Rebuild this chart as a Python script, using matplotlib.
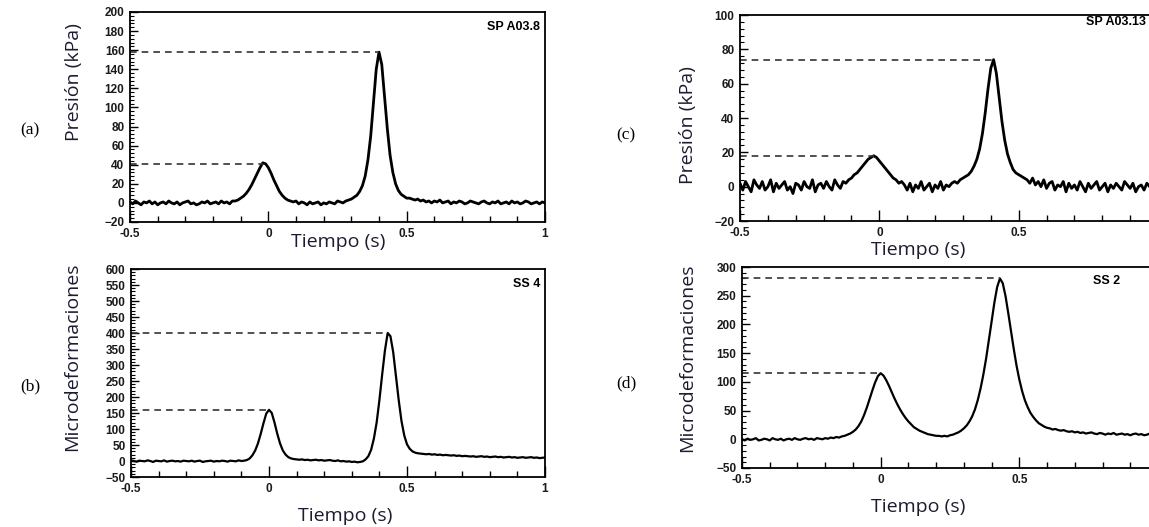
import numpy as np
import matplotlib.pyplot as plt
from matplotlib.ticker import MultipleLocator

# eje de tiempo comun (s), paso 0.01
t = np.round(np.arange(-0.5, 1.0001, 0.01), 2)

# (a) presion SP A03.8 (kPa), filas de 10 muestras
presion_a = [
    1, -1, 2, 0, -2, 1, 0, 2, -1, 1,
    -2, 0, 1, -1, 2, 0, -1, 1, -2, 0,
    1, 2, -1, 0, -2, -1, 1, 0, 2, -1,
    0, 1, -1, 2, 0, 1, -1, 2, 2, 3,
    5, 7, 10, 14, 19, 25, 31, 37, 42, 41,
    37, 31, 24, 18, 12, 8, 5, 3, 2, 1,
    2, -1, 1, 0, -2, 1, -1, 0, 1, -2,
    0, -1, 1, 0, -1, 2, 1, 0, 2, 3,
    4, 6, 8, 12, 18, 28, 45, 70, 105, 140,
    158, 145, 112, 78, 50, 32, 20, 13, 9, 7,
    5, 5, 4, 3, 4, 2, 3, 1, 2, 0,
    2, 1, 3, 0, 1, 2, -1, 1, 0, 2,
    1, -1, 0, 2, 1, 0, -1, 1, 2, 0,
    -1, 1, 0, 2, -1, 0, 1, -1, 2, 0,
    1, -1, 0, 2, 1, -1, 0, 1, -1, 1,
    0]

# (b) microdeformaciones SS 4
micro_b = [
    2, 0, -2, 1, 0, -1, 2, 0, -3, 1,
    0, -1, 2, -2, 0, 1, -1, 0, -2, 1,
    0, -1, 1, -2, 0, 1, -3, -1, 0, 1,
    -2, 0, -1, 1, 0, -2, 1, 0, -1, 2,
    0, 1, 3, 8, 18, 33, 55, 85, 118, 148,
    160, 150, 120, 85, 55, 33, 20, 12, 8, 6,
    5, 4, 5, 3, 4, 2, 3, 4, 2, 3,
    1, 2, 3, 1, 0, 2, -1, 0, -2, -1,
    -3, -2, -4, -3, -1, 5, 15, 35, 70, 120,
    190, 270, 345, 400, 390, 340, 265, 190, 125, 80,
    52, 38, 30, 26, 24, 23, 22, 21, 22, 20,
    21, 19, 20, 18, 19, 18, 17, 18, 16, 17,
    15, 16, 15, 14, 15, 13, 14, 15, 13, 14,
    12, 13, 14, 12, 13, 11, 12, 13, 11, 12,
    10, 11, 12, 10, 11, 12, 10, 11, 9, 10,
    11]

# (c) presion SP A03.13 (kPa)
presion_c = [
    2, -2, 3, 0, -3, 4, 1, -1, 3, -2,
    0, 4, -3, 2, -1, 1, 3, -2, 0, -4,
    2, 1, -2, 3, 0, -1, 4, -3, 1, 2,
    -1, 3, 0, -2, 4, 1, -1, 3, 2, 4,
    5, 7, 8, 10, 12, 14, 16, 17, 18, 17,
    15, 13, 11, 9, 7, 5, 4, 2, 3, 1,
    -2, 2, -3, 1, -1, 3, -2, 0, 2, -3,
    1, -1, 3, -2, 1, 0, 2, 3, 2, 4,
    5, 6, 7, 9, 12, 16, 22, 31, 43, 57,
    69, 74, 66, 52, 38, 27, 19, 14, 10, 8,
    7, 6, 5, 4, 2, 5, 1, 3, 0, 4,
    -1, 2, 3, -2, 1, 0, 3, -3, 2, -1,
    1, -2, 3, 0, -3, 2, -1, 1, 3, -2,
    0, 2, -3, 1, -1, 2, 0, -2, 3, 1,
    -1, 2, -3, 0, 1, -2, 2, 0, -1, 1,
    0]

# (d) microdeformaciones SS 2
micro_d = [
    0, -2, 1, -1, 0, 2, -2, -1, 1, 0,
    -2, 2, 0, -1, 1, -2, 0, 1, -1, 2,
    0, -1, 1, 2, 0, 1, -1, 2, 1, 0,
    2, 1, 3, 2, 4, 3, 5, 6, 8, 10,
    13, 17, 23, 31, 42, 55, 70, 85, 99, 110,
    115, 111, 103, 93, 82, 71, 61, 52, 44, 37,
    31, 26, 21, 18, 15, 13, 11, 9, 8, 7,
    6, 6, 5, 6, 5, 7, 8, 10, 12, 15,
    19, 24, 31, 40, 52, 68, 88, 112, 140, 172,
    205, 238, 265, 280, 272, 250, 220, 188, 157, 128,
    104, 84, 68, 56, 46, 39, 33, 28, 25, 22,
    20, 19, 17, 18, 16, 15, 16, 14, 13, 14,
    12, 13, 11, 12, 10, 11, 12, 10, 9, 11,
    10, 8, 10, 9, 11, 8, 9, 10, 8, 9,
    7, 9, 10, 8, 9, 7, 8, 10, 8, 9,
    8]

# picos marcados con linea discontinua (tiempo, valor)
picos_a_t, picos_a_v = [-0.02, 0.40], [41, 158]
picos_b_t, picos_b_v = [0.00, 0.43], [160, 400]
picos_c_t, picos_c_v = [-0.02, 0.41], [18, 74]
picos_d_t, picos_d_v = [0.00, 0.43], [115, 280]

W, H = 1149, 527
fig = plt.figure(figsize=(W / 100, H / 100), dpi=100)


def px_axes(x0, y0, x1, y1):
    return fig.add_axes([x0 / W, 1 - y1 / H, (x1 - x0) / W, (y1 - y0) / H])


def fmt_x(v, p, xmax):
    if v > xmax:
        return ''
    if abs(v) < 1e-9:
        return '0'
    if abs(v - 1) < 1e-9:
        return '1'
    return f'{v:g}'


def panel(ax, y, ylim, ymaj, ymin, pt, pv, tag, lw, xmax=1.0):
    ax.plot(t, y, color='black', lw=lw, solid_joinstyle='round')
    for tp, vp in zip(pt, pv):
        ax.plot([-0.5, tp], [vp, vp], color='#333333', lw=1.2, ls=(0, (4, 3)))
    ax.set_xlim(-0.5, 1.0)
    ax.set_ylim(*ylim)
    ax.xaxis.set_major_locator(MultipleLocator(0.5))
    ax.xaxis.set_minor_locator(MultipleLocator(0.1))
    ax.yaxis.set_major_locator(MultipleLocator(ymaj))
    ax.yaxis.set_minor_locator(MultipleLocator(ymin))
    ax.xaxis.set_major_formatter(lambda v, p: fmt_x(v, p, xmax))
    ax.tick_params(axis='x', which='major', direction='in', length=8, width=1, pad=4)
    ax.tick_params(axis='x', which='minor', direction='in', length=4, width=1)
    ax.tick_params(axis='y', which='major', direction='in', length=6, width=1, pad=4)
    ax.tick_params(axis='y', which='minor', direction='in', length=3, width=0.8)
    for lab in ax.get_xticklabels() + ax.get_yticklabels():
        lab.set_fontfamily('Liberation Sans')
        lab.set_fontweight('bold')
        lab.set_fontsize(8.5)
        lab.set_color('#1a1a1a')
    for s in ax.spines.values():
        s.set_linewidth(1.3)
    if tag:
        ax.text(0.988, 0.955, tag, transform=ax.transAxes, ha='right', va='top',
                fontfamily='Liberation Sans', fontweight='bold', fontsize=9)


ax_a = px_axes(130, 12, 545, 222)
panel(ax_a, presion_a, (-20, 200), 20, 4, picos_a_t, picos_a_v, 'SP A03.8', 2.0)
ax_b = px_axes(131, 269, 545, 477)
panel(ax_b, micro_b, (-50, 600), 50, 10, picos_b_t, picos_b_v, 'SS 4', 1.6)
ax_c = px_axes(740, 15, 1158, 221)
panel(ax_c, presion_c, (-20, 100), 20, 4, picos_c_t, picos_c_v, '', 2.0, xmax=0.9)
ax_d = px_axes(742, 267, 1158, 468)
panel(ax_d, micro_d, (-50, 300), 50, 10, picos_d_t, picos_d_v, '', 1.6, xmax=0.9)
ax_c.spines['right'].set_visible(False)
ax_d.spines['right'].set_visible(False)

lab_font = dict(fontfamily='Open Sans', fontsize=14, color='#1c1c30', ha='center', va='center')
fig.text(74 / W, 1 - 82 / H, 'Presión (kPa)', rotation=90, **lab_font)
fig.text(72 / W, 1 - 357 / H, 'Microdeformaciones', rotation=90, **lab_font)
fig.text(688 / W, 1 - 125 / H, 'Presión (kPa)', rotation=90, **lab_font)
fig.text(687 / W, 1 - 358 / H, 'Microdeformaciones', rotation=90, **lab_font)
fig.text(338 / W, 1 - 242 / H, 'Tiempo (s)', **lab_font)
fig.text(345 / W, 1 - 516 / H, 'Tiempo (s)', **lab_font)
fig.text(918 / W, 1 - 250 / H, 'Tiempo (s)', **lab_font)
fig.text(918 / W, 1 - 507 / H, 'Tiempo (s)', **lab_font)

tag_font = dict(fontfamily='Liberation Sans', fontweight='bold', fontsize=9, ha='right', va='center')
fig.text(1146 / W, 1 - 22 / H, 'SP A03.13', **tag_font)
fig.text(1120 / W, 1 - 281 / H, 'SS 2', **tag_font)

let_font = dict(fontfamily='Liberation Serif', fontsize=12.5, ha='center', va='center')
fig.text(30 / W, 1 - 130 / H, '(a)', **let_font)
fig.text(30 / W, 1 - 386 / H, '(b)', **let_font)
fig.text(626 / W, 1 - 135 / H, '(c)', **let_font)
fig.text(626 / W, 1 - 383 / H, '(d)', **let_font)

fig.savefig('out.png', dpi=100)
